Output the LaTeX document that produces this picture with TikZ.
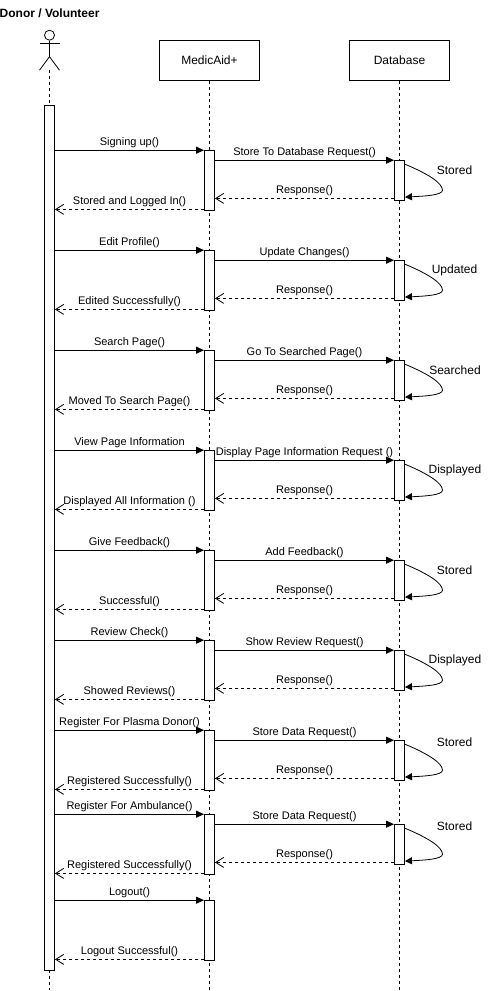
\documentclass[tikz,border=0pt]{standalone}
\usepackage{fontspec}
\setmainfont{Liberation Sans}
\usetikzlibrary{arrows.meta,positioning,calc}
\tikzset{
  headbox/.style={draw, thick, fill=white, minimum width=100pt, minimum height=40pt, inner sep=0pt, font=\fontsize{12}{12}\selectfont},
  lifeline/.style={draw, line width=0.8pt, dash pattern=on 3pt off 3pt},
  bar/.style={draw, line width=0.9pt, fill=white, minimum width=10pt, inner sep=0pt, anchor=north},
  callmsg/.style={line width=0.9pt, -{Triangle[length=8pt,width=7pt]}},
  backmsg/.style={line width=0.8pt, dash pattern=on 3pt off 3pt, -{Straight Barb[length=8pt,width=10pt,line width=0.8pt]}},
  selfmsg/.style={line width=0.8pt, -{Triangle[length=7pt,width=7pt]}},
  msgtext/.style={midway, above, yshift=2.2pt, inner sep=0pt, text height=8pt, text depth=2.5pt, font=\fontsize{11}{11}\selectfont},
  selftext/.style={font=\fontsize{12}{12}\selectfont, inner sep=0pt, yshift=-0.2pt}
}
\begin{document}
\begin{tikzpicture}[x=1pt, y=-1pt]
  \useasboundingbox[fill=white] (0,0.3) rectangle (491,991.3);

  % Header
  \node[font=\fontsize{12}{12}\selectfont\bfseries, inner sep=0pt, anchor=west] (donortitle) at (-0.5,14) {Donor / Volunteer};
  \node[circle, draw, line width=0.8pt, minimum size=10pt, inner sep=0pt] (donorhead) at (49.5,35.5) {};
  \coordinate (donorhip) at (49.5,57);
  \coordinate (donorarml) at (39.5,43.5);
  \coordinate (donorarmr) at (59.5,43.5);
  \coordinate (donorlegl) at (39.5,70.5);
  \coordinate (donorlegr) at (59.5,70.5);
  \coordinate (donorfoot) at (49.5,70.5);
  \coordinate (donorend) at (49.5,990);
  \coordinate (medicend) at (209.5,990);
  \coordinate (dbend) at (399.5,990);
  \draw[line width=0.8pt] (donorhead.south) -- (donorhip);
  \draw[line width=0.8pt] (donorarml) -- (donorarmr);
  \draw[line width=0.8pt] (donorlegl) -- (donorhip) -- (donorlegr);
  \node[headbox] (medic) at (209.5,60.5) {MedicAid+};
  \node[headbox] (db) at (399.5,60.5) {Database};
  \draw[lifeline] (donorfoot) -- (donorend);
  \draw[lifeline] (medic.south) -- (medicend);
  \draw[lifeline] (db.south) -- (dbend);
  \node[bar, minimum height=865pt] (donorbar) at (49.5,105.5) {};

  % Row 1 - Signing up
  \node[bar, minimum height=60pt] (signupM) at (209.5,150.5) {};
  \node[bar, minimum height=40pt] (signupD) at (399.5,160.5) {};
  \draw[callmsg] (signupM.north west -| donorbar.east) -- node[msgtext] {Signing up()} (signupM.north west);
  \draw[callmsg] (signupD.north west -| signupM.east) -- node[msgtext] {Store To Database Request()} (signupD.north west);
  \draw[backmsg] ([yshift=2.7pt]signupD.south west) -- node[msgtext] {Response()} ([yshift=2.7pt]signupD.south west -| signupM.east);
  \draw[backmsg] ([yshift=1.7pt]signupM.south west) -- node[msgtext] {Stored and Logged In()} ([yshift=1.7pt]signupM.south west -| donorbar.east);
  \draw[selfmsg] ([yshift=-4pt]signupD.north east) .. controls +(24,10) and +(0,-7) .. +(37.5,26) .. controls +(0,5) and +(20,-1) .. ([yshift=4pt]signupD.south east);
  \node[selftext] (signupS) at (454.5,170.5) {Stored};

  % Row 2 - Edit profile
  \node[bar, minimum height=60pt] (editM) at (209.5,250.5) {};
  \node[bar, minimum height=40pt] (editD) at (399.5,260.5) {};
  \draw[callmsg] (editM.north west -| donorbar.east) -- node[msgtext] {Edit Profile()} (editM.north west);
  \draw[callmsg] (editD.north west -| editM.east) -- node[msgtext] {Update Changes()} (editD.north west);
  \draw[backmsg] ([yshift=2.7pt]editD.south west) -- node[msgtext] {Response()} ([yshift=2.7pt]editD.south west -| editM.east);
  \draw[backmsg] ([yshift=1.7pt]editM.south west) -- node[msgtext] {Edited Successfully()} ([yshift=1.7pt]editM.south west -| donorbar.east);
  \draw[selfmsg] ([yshift=-4pt]editD.north east) .. controls +(24,10) and +(0,-7) .. +(37.5,26) .. controls +(0,5) and +(20,-1) .. ([yshift=4pt]editD.south east);
  \node[selftext] (editS) at (454.5,270.5) {Updated};

  % Row 3 - Search page
  \node[bar, minimum height=60pt] (searchM) at (209.5,350.5) {};
  \node[bar, minimum height=40pt] (searchD) at (399.5,360.5) {};
  \draw[callmsg] (searchM.north west -| donorbar.east) -- node[msgtext] {Search Page()} (searchM.north west);
  \draw[callmsg] (searchD.north west -| searchM.east) -- node[msgtext] {Go To Searched Page()} (searchD.north west);
  \draw[backmsg] ([yshift=2.7pt]searchD.south west) -- node[msgtext] {Response()} ([yshift=2.7pt]searchD.south west -| searchM.east);
  \draw[backmsg] ([yshift=1.7pt]searchM.south west) -- node[msgtext] {Moved To Search Page()} ([yshift=1.7pt]searchM.south west -| donorbar.east);
  \draw[selfmsg] ([yshift=-4pt]searchD.north east) .. controls +(24,10) and +(0,-7) .. +(37.5,26) .. controls +(0,5) and +(20,-1) .. ([yshift=4pt]searchD.south east);
  \node[selftext] (searchS) at (455,370.5) {Searched};

  % Row 4 - Page information
  \node[bar, minimum height=60pt] (infoM) at (209.5,450.5) {};
  \node[bar, minimum height=40pt] (infoD) at (399.5,460.5) {};
  \draw[callmsg] (infoM.north west -| donorbar.east) -- node[msgtext] {View Page Information} (infoM.north west);
  \draw[callmsg] (infoD.north west -| infoM.east) -- node[msgtext] {Display Page Information Request ()} (infoD.north west);
  \draw[backmsg] ([yshift=2.7pt]infoD.south west) -- node[msgtext] {Response()} ([yshift=2.7pt]infoD.south west -| infoM.east);
  \draw[backmsg] ([yshift=1.7pt]infoM.south west) -- node[msgtext] {Displayed All Information ()} ([yshift=1.7pt]infoM.south west -| donorbar.east);
  \draw[selfmsg] ([yshift=-4pt]infoD.north east) .. controls +(24,10) and +(0,-7) .. +(37.5,26) .. controls +(0,5) and +(20,-1) .. ([yshift=4pt]infoD.south east);
  \node[selftext] (infoS) at (455,470.5) {Displayed};

  % Row 5 - Feedback
  \node[bar, minimum height=60pt] (feedM) at (209.5,550.5) {};
  \node[bar, minimum height=40pt] (feedD) at (399.5,560.5) {};
  \draw[callmsg] (feedM.north west -| donorbar.east) -- node[msgtext] {Give Feedback()} (feedM.north west);
  \draw[callmsg] (feedD.north west -| feedM.east) -- node[msgtext] {Add Feedback()} (feedD.north west);
  \draw[backmsg] ([yshift=2.7pt]feedD.south west) -- node[msgtext] {Response()} ([yshift=2.7pt]feedD.south west -| feedM.east);
  \draw[backmsg] ([yshift=1.7pt]feedM.south west) -- node[msgtext] {Successful()} ([yshift=1.7pt]feedM.south west -| donorbar.east);
  \draw[selfmsg] ([yshift=-4pt]feedD.north east) .. controls +(24,10) and +(0,-7) .. +(37.5,26) .. controls +(0,5) and +(20,-1) .. ([yshift=4pt]feedD.south east);
  \node[selftext] (feedS) at (454.5,570.5) {Stored};

  % Row 6 - Reviews
  \node[bar, minimum height=60pt] (reviewM) at (209.5,640.5) {};
  \node[bar, minimum height=40pt] (reviewD) at (399.5,650.5) {};
  \draw[callmsg] (reviewM.north west -| donorbar.east) -- node[msgtext] {Review Check()} (reviewM.north west);
  \draw[callmsg] (reviewD.north west -| reviewM.east) -- node[msgtext] {Show Review Request()} (reviewD.north west);
  \draw[backmsg] ([yshift=2.7pt]reviewD.south west) -- node[msgtext] {Response()} ([yshift=2.7pt]reviewD.south west -| reviewM.east);
  \draw[backmsg] ([yshift=1.7pt]reviewM.south west) -- node[msgtext] {Showed Reviews()} ([yshift=1.7pt]reviewM.south west -| donorbar.east);
  \draw[selfmsg] ([yshift=-4pt]reviewD.north east) .. controls +(24,10) and +(0,-7) .. +(37.5,26) .. controls +(0,5) and +(20,-1) .. ([yshift=4pt]reviewD.south east);
  \node[selftext] (reviewS) at (455,660.5) {Displayed};

  % Row 7 - Plasma donor
  \node[bar, minimum height=60pt] (plasmaM) at (209.5,730.5) {};
  \node[bar, minimum height=40pt] (plasmaD) at (399.5,740.5) {};
  \draw[callmsg] (plasmaM.north west -| donorbar.east) -- node[msgtext] {Register For Plasma Donor()} (plasmaM.north west);
  \draw[callmsg] (plasmaD.north west -| plasmaM.east) -- node[msgtext] {Store Data Request()} (plasmaD.north west);
  \draw[backmsg] ([yshift=2.7pt]plasmaD.south west) -- node[msgtext] {Response()} ([yshift=2.7pt]plasmaD.south west -| plasmaM.east);
  \draw[backmsg] ([yshift=1.7pt]plasmaM.south west) -- node[msgtext] {Registered Successfully()} ([yshift=1.7pt]plasmaM.south west -| donorbar.east);
  \draw[selfmsg] ([yshift=-4pt]plasmaD.north east) .. controls +(24,10) and +(0,-7) .. +(37.5,26) .. controls +(0,5) and +(20,-1) .. ([yshift=4pt]plasmaD.south east);
  \node[selftext] (plasmaS) at (454.5,742.5) {Stored};

  % Row 8 - Ambulance
  \node[bar, minimum height=60pt] (ambuM) at (209.5,814.5) {};
  \node[bar, minimum height=40pt] (ambuD) at (399.5,824.5) {};
  \draw[callmsg] (ambuM.north west -| donorbar.east) -- node[msgtext] {Register For Ambulance()} (ambuM.north west);
  \draw[callmsg] (ambuD.north west -| ambuM.east) -- node[msgtext] {Store Data Request()} (ambuD.north west);
  \draw[backmsg] ([yshift=2.7pt]ambuD.south west) -- node[msgtext] {Response()} ([yshift=2.7pt]ambuD.south west -| ambuM.east);
  \draw[backmsg] ([yshift=1.7pt]ambuM.south west) -- node[msgtext] {Registered Successfully()} ([yshift=1.7pt]ambuM.south west -| donorbar.east);
  \draw[selfmsg] ([yshift=-4pt]ambuD.north east) .. controls +(24,10) and +(0,-7) .. +(37.5,26) .. controls +(0,5) and +(20,-1) .. ([yshift=4pt]ambuD.south east);
  \node[selftext] (ambuS) at (454.5,826.5) {Stored};

  % Row 9 - Logout
  \node[bar, minimum height=60pt] (logoutM) at (209.5,900.5) {};
  \draw[callmsg] (logoutM.north west -| donorbar.east) -- node[msgtext] {Logout()} (logoutM.north west);
  \draw[backmsg] ([yshift=1.7pt]logoutM.south west) -- node[msgtext] {Logout Successful()} ([yshift=1.7pt]logoutM.south west -| donorbar.east);
\end{tikzpicture}
\end{document}
